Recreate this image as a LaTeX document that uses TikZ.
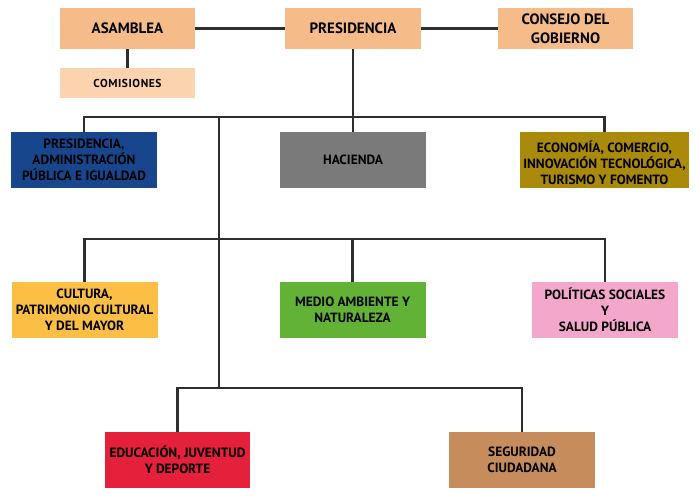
\documentclass[tikz,border=0pt]{standalone}
\usepackage{fontspec}
\setmainfont{PT Sans}
\begin{document}
\begin{tikzpicture}[x=1pt,y=-1pt,
  box/.style={fill=#1, text=black, inner sep=0pt, align=center,
    font=\bfseries\fontsize{13.4}{16.2}\selectfont, minimum height=56pt},
  topbox/.style={fill=peach, text=black, inner sep=0pt, align=center,
    font=\bfseries\fontsize{15}{19}\selectfont, minimum width=135pt, minimum height=41pt},
  conn/.style={draw=linec, line width=2.2pt}]
\definecolor{peach}{HTML}{F5BC8A}
\definecolor{lpeach}{HTML}{FBD3AE}
\definecolor{cblue}{HTML}{17468C}
\definecolor{cgray}{HTML}{7A7A7A}
\definecolor{colive}{HTML}{AA8A0A}
\definecolor{cyel}{HTML}{FBBF45}
\definecolor{cgreen}{HTML}{62B236}
\definecolor{cpink}{HTML}{F2A7CB}
\definecolor{cred}{HTML}{E4203A}
\definecolor{ctan}{HTML}{C68C5C}
\definecolor{linec}{HTML}{2E2E2E}
\useasboundingbox (0,0) rectangle (699,496);
\fill[white] (0,0) rectangle (699,496);

\node[topbox] (asam) at (127.5,28.5) {ASAMBLEA};
\node[topbox, minimum width=136pt] (pres) at (353,28.5) {PRESIDENCIA};
\node[topbox] (cons) at (565.5,28.5) {CONSEJO DEL\\GOBIERNO};
\node[fill=lpeach, inner sep=0pt, minimum width=135pt, minimum height=30pt,
  font=\bfseries\fontsize{11.5}{13}\selectfont] (comi) at (127.5,83) {\addfontfeatures{LetterSpace=5}COMISIONES};

\node[box=cblue, minimum width=146pt] (padm) at (84,160) {PRESIDENCIA,\\ADMINISTRACIÓN\\PÚBLICA E IGUALDAD};
\node[box=cgray, minimum width=146pt] (hac) at (353,160) {HACIENDA};
\node[box=colive, minimum width=169pt] (econ) at (604.5,160) {\rule{0pt}{17pt}ECONOMÍA, COMERCIO,\\INNOVACIÓN TECNOLÓGICA,\\TURISMO Y FOMENTO};

\node[box=cyel, minimum width=146pt] (cult) at (84.5,310) {CULTURA,\\PATRIMONIO CULTURAL\\Y DEL MAYOR};
\node[box=cgreen, minimum width=146pt] (medio) at (352.5,310) {MEDIO AMBIENTE Y\\NATURALEZA};
\node[box=cpink, minimum width=146pt] (polit) at (605,310) {POLÍTICAS SOCIALES\\Y\\SALUD PÚBLICA};

\node[box=cred, minimum width=145pt] (educ) at (177.5,460) {EDUCACIÓN, JUVENTUD\\Y DEPORTE};
\node[box=ctan, minimum width=146pt] (seg) at (522,460) {SEGURIDAD\\CIUDADANA};

\coordinate (b1) at (219,117);
\coordinate (b2) at (219,239);
\coordinate (b3) at (219,388);

\draw[conn] (asam) -- (pres);
\draw[conn] (pres) -- (cons);
\draw[conn] (asam) -- (comi);
\draw[conn] (pres) -- (hac);
\draw[conn] (padm.north) |- (econ.north |- b1) -- (econ.north);
\draw[conn] (b1) -- (b3);
\draw[conn] (cult.north) |- (polit.north |- b2) -- (polit.north);
\draw[conn] (medio.north |- b2) -- (medio.north);
\draw[conn] (educ.north) |- (seg.north |- b3) -- (seg.north);
\end{tikzpicture}
\end{document}
